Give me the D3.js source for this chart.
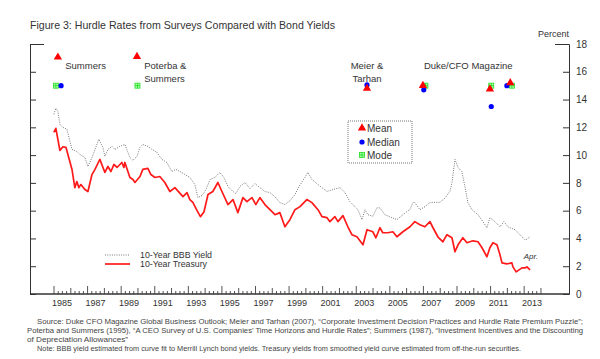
<!DOCTYPE html>
<html><head><meta charset="utf-8">
<script src="https://cdn.jsdelivr.net/npm/d3@7"></script>
<style>
html,body{margin:0;padding:0;background:#fff;}
svg{display:block;font-family:"Liberation Sans",Arial,Helvetica,sans-serif;}
</style></head>
<body><svg id="c" width="600" height="359"></svg>
<script>
// ---------- DATA ----------
const tsyDates = [1985.02,1985.14,1985.38,1985.56,1985.74,1986.10,1986.27,1986.39,1986.51,1986.63,1986.87,1987.05,1987.29,1987.47,1987.70,1987.76,1988.06,1988.24,1988.42,1988.60,1988.78,1989.07,1989.19,1989.25,1989.55,1989.73,1989.85,1990.15,1990.32,1990.62,1990.80,1991.04,1991.33,1991.63,1991.93,1992.23,1992.71,1992.95,1993.12,1993.30,1993.55,1993.75,1993.96,1994.20,1994.49,1994.79,1995.03,1995.39,1995.69,1995.98,1996.28,1996.52,1996.82,1997.05,1997.29,1997.59,1997.89,1998.19,1998.48,1998.78,1999.08,1999.38,1999.68,1999.97,2000.09,2000.39,2000.75,2000.99,2001.28,2001.46,2001.76,2001.94,2002.24,2002.53,2002.77,2003.07,2003.43,2003.67,2004.02,2004.20,2004.44,2004.61,2004.91,2005.21,2005.45,2005.81,2006.23,2006.52,2006.82,2007.12,2007.42,2007.60,2007.89,2008.19,2008.43,2008.73,2008.91,2009.09,2009.38,2009.62,2009.98,2010.28,2010.52,2010.81,2010.99,2011.17,2011.41,2011.59,2011.71,2012.00,2012.30,2012.36,2012.55,2012.90,2013.08,2013.20,2013.38];
const tsyValues = [11.64,11.93,10.34,10.60,10.56,8.97,7.66,8.10,7.66,7.88,7.52,7.38,8.60,8.97,9.54,9.69,8.75,9.18,8.82,9.33,9.11,9.47,9.11,9.47,8.39,8.24,8.03,8.46,8.97,9.04,8.60,8.39,8.46,8.03,7.38,7.66,7.01,7.30,6.80,6.60,6.00,5.57,5.90,7.16,7.38,8.03,7.38,6.44,6.80,5.86,6.94,6.65,6.94,6.44,6.94,6.44,6.07,5.71,5.86,4.84,5.35,6.07,6.29,6.65,6.80,6.58,6.07,5.57,5.50,5.21,5.57,5.21,5.64,4.84,4.27,4.12,3.54,4.63,4.48,4.05,4.77,4.41,4.41,4.48,4.12,4.48,4.84,5.21,4.99,4.84,5.21,4.77,4.12,3.76,4.27,4.05,3.04,3.54,4.05,3.69,3.83,3.76,3.33,2.68,3.33,3.69,3.54,2.82,2.24,2.17,2.24,1.95,1.59,1.88,1.88,1.95,1.74];

const bbbDates = [1985.02,1985.14,1985.26,1985.38,1985.56,1985.80,1986.10,1986.39,1986.57,1986.87,1987.05,1987.29,1987.47,1987.70,1987.94,1988.06,1988.24,1988.48,1988.66,1988.95,1989.25,1989.55,1989.73,1989.97,1990.15,1990.32,1990.62,1990.86,1991.16,1991.45,1991.75,1992.05,1992.29,1992.53,1992.83,1993.12,1993.42,1993.60,1993.84,1994.08,1994.32,1994.61,1994.91,1995.15,1995.39,1995.69,1995.86,1996.10,1996.40,1996.70,1996.99,1997.29,1997.59,1997.89,1998.19,1998.48,1998.78,1999.08,1999.38,1999.62,1999.97,2000.15,2000.39,2000.75,2000.99,2001.28,2001.64,2002.06,2002.36,2002.65,2002.95,2003.13,2003.37,2003.55,2003.72,2004.02,2004.26,2004.44,2004.73,2005.15,2005.45,2005.81,2006.23,2006.41,2006.52,2006.82,2007.12,2007.42,2007.72,2008.01,2008.31,2008.61,2008.73,2008.91,2009.09,2009.32,2009.50,2009.68,2009.92,2010.28,2010.58,2010.81,2010.99,2011.29,2011.59,2011.82,2012.06,2012.48,2012.78,2013.08,2013.20,2013.38];
const bbbValues = [12.94,13.38,13.16,12.22,12.00,11.86,10.41,10.27,10.05,9.83,9.18,9.83,10.41,11.14,10.56,9.91,10.41,10.63,10.41,10.63,10.77,9.83,9.62,9.91,10.56,10.77,10.63,10.41,10.20,9.69,9.47,8.82,8.97,8.82,8.60,8.39,7.88,6.94,7.09,7.52,8.24,8.39,8.75,8.39,7.74,7.38,7.23,7.74,8.03,7.59,7.95,7.66,7.38,7.30,7.01,6.58,6.44,6.72,7.16,7.74,8.39,8.75,8.24,7.88,7.66,7.38,7.52,7.66,7.30,6.65,6.29,6.07,5.35,6.07,5.71,5.60,6.20,6.20,5.71,5.50,5.35,5.71,6.10,6.58,6.58,6.07,6.29,6.58,6.60,6.60,6.90,7.40,8.00,9.69,9.11,8.82,7.74,6.58,6.07,5.71,5.21,4.77,5.50,5.21,4.84,5.21,4.84,4.63,4.27,3.90,3.95,4.12];

const meanDates  = [1985.26, 1989.97, 2003.67, 2007.00, 2010.99, 2012.20];
const meanValues = [17.05, 17.10, 14.80, 15.00, 14.75, 15.20];
const medianDates  = [1985.45, 2003.67, 2007.05, 2011.07, 2012.00];
const medianValues = [15.00, 15.05, 14.70, 13.50, 15.00];
const modeDates  = [1985.14, 1990.00, 2007.15, 2011.07, 2012.30];
const modeValues = [15.00, 15.00, 15.00, 15.00, 15.00];

const surveyLabels = [
  {lines:["Summers"], year:1985.7, anchor:"start"},
  {lines:["Poterba &","Summers"], year:1990.4, anchor:"start"},
  {lines:["Meier &","Tarhan"], year:2003.67, anchor:"middle"},
  {lines:["Duke/CFO Magazine"], year:2009.7, anchor:"middle"}
];
const yearLabels = [1985,1987,1989,1991,1993,1995,1997,1999,2001,2003,2005,2007,2009,2011,2013];
const yTicks = [0,2,4,6,8,10,12,14,16,18];
const seriesNames = ["10-Year BBB Yield","10-Year Treasury"];
const markerNames = ["Mean","Median","Mode"];
const footnotes = [
  "Source: Duke CFO Magazine Global Business Outlook; Meier and Tarhan (2007), \u201cCorporate Investment Decision Practices and Hurdle Rate Premium Puzzle\u201d;",
  "Poterba and Summers (1995), \u201cA CEO Survey of U.S. Companies\u2019 Time Horizons and Hurdle Rates\u201d; Summers (1987), \u201cInvestment Incentives and the Discounting",
  "of Depreciation Allowances\u201d",
  "Note: BBB yield estimated from curve fit to Merrill Lynch bond yields.  Treasury yields from smoothed yield curve estimated from off-the-run securities."
];

// ---------- SCALES ----------
const svg = d3.select("#c");
const L = 30, R = 569, T = 44, B = 294;
const x = d3.scaleLinear().domain([1983.6, 2015.7]).range([L, R]);
const y = d3.scaleLinear().domain([0, 18]).range([B, T]);
const txt = "#333";

// title
svg.append("text").attr("x", 30).attr("y", 29).attr("font-size", 11).attr("fill", txt)
  .attr("textLength", 305).attr("lengthAdjust","spacingAndGlyphs")
  .text("Figure 3: Hurdle Rates from Surveys Compared with Bond Yields");

// axes
const axR = svg.append("g").attr("transform", `translate(${R},0)`)
  .call(d3.axisRight(y).tickValues(yTicks).tickSize(-6).tickPadding(7).tickFormat(d3.format("d")));
axR.selectAll("text").attr("font-size", 10).attr("fill", txt).attr("font-family","Liberation Sans, Arial, sans-serif");
axR.selectAll("line").attr("stroke", "#333");
axR.select(".domain").attr("stroke", "#333");
axR.selectAll(".tick").filter(d => d === 18).select("line").attr("x2", -14);

const axL = svg.append("g").attr("transform", `translate(${L},0)`)
  .call(d3.axisLeft(y).tickValues(yTicks).tickSize(-6).tickFormat(""));
axL.selectAll("line").attr("stroke", "#333");
axL.select(".domain").attr("stroke", "#333");
axL.selectAll(".tick").filter(d => d === 18).select("line").attr("x2", 14);

svg.append("text").attr("x", 569).attr("y", 37).attr("text-anchor","end").attr("font-size", 9).attr("fill", txt).text("Percent");

// bottom axis
const qTicks = d3.range(1985, 2014.01, 0.25);
const axB = svg.append("g").attr("transform", `translate(0,${B})`)
  .call(d3.axisBottom(x).tickValues(qTicks).tickSize(-3).tickFormat(""));
axB.select(".domain").remove();
axB.selectAll(".tick line").attr("stroke", "#555")
  .attr("y2", d => (Math.abs(d - Math.round(d)) < 1e-6) ? ((Math.round(d) % 2 === 1) ? -8 : -6) : -3);
svg.append("line").attr("x1", L).attr("x2", R).attr("y1", B).attr("y2", B).attr("stroke", "#333").attr("stroke-width", 1.5);

svg.append("g").selectAll("text").data(yearLabels).join("text")
  .attr("x", d => x(d + 0.5)).attr("y", 306).attr("text-anchor","middle")
  .attr("font-size", 9).attr("fill", txt).text(d => d);

// lines
const bbb = bbbDates.map((d,i) => [d, bbbValues[i]]);
const tsy = tsyDates.map((d,i) => [d, tsyValues[i]]);
const line = d3.line().x(d => x(d[0])).y(d => y(d[1]));
svg.append("path").attr("d", line(bbb)).attr("fill","none").attr("stroke","#777")
  .attr("stroke-width", 1).attr("stroke-dasharray","1,1.3");
svg.append("path").attr("d", line(tsy)).attr("fill","none").attr("stroke","#ff1a1a")
  .attr("stroke-width", 1.7).attr("stroke-linejoin","round");

svg.append("text").attr("x", x(2013.0)).attr("y", 259).attr("font-size", 8).attr("font-style","italic")
  .attr("fill", txt).text("Apr.");

// line legend
const lg = svg.append("g");
lg.append("line").attr("x1",105).attr("x2",130).attr("y1",255).attr("y2",255).attr("stroke","#777").attr("stroke-dasharray","1,1.3");
lg.append("line").attr("x1",105).attr("x2",130).attr("y1",264).attr("y2",264).attr("stroke","#ff1a1a").attr("stroke-width",1.7);
lg.selectAll("text").data(seriesNames).join("text")
  .attr("x", 140).attr("y", (d,i) => 258 + i*9).attr("font-size", 8.2).attr("fill", txt)
  .attr("textLength", (d,i) => i ? 67 : 72).attr("lengthAdjust","spacingAndGlyphs").text(d => d);

// markers
const tri = d3.symbol().type(d3.symbolTriangle).size(30);
function drawMean(g, xs, ys) {
  g.append("path").attr("d", tri()).attr("transform", `translate(${xs},${ys})`).attr("fill", "#ff0000");
}
function drawMedian(g, xs, ys) {
  g.append("circle").attr("cx", xs).attr("cy", ys).attr("r", 2.6).attr("fill", "#0000ff");
}
function drawMode(g, xs, ys) {
  g.append("rect").attr("x", xs-2.5).attr("y", ys-2.5).attr("width",5).attr("height",5)
    .attr("fill","#aaffaa").attr("stroke","#22dd22").attr("stroke-width",0.8);
  g.append("path").attr("d", `M${xs-2.5},${ys}H${xs+2.5}M${xs},${ys-2.5}V${ys+2.5}`).attr("stroke","#22dd22").attr("stroke-width",0.8);
}
const mg = svg.append("g");
modeDates.forEach((d,i) => drawMode(mg, x(d), y(modeValues[i])));
medianDates.forEach((d,i) => drawMedian(mg, x(d), y(medianValues[i])));
meanDates.forEach((d,i) => drawMean(mg, x(d), y(meanValues[i])));

// survey labels
surveyLabels.forEach(s => {
  const t = svg.append("text").attr("x", x(s.year)).attr("y", 69).attr("text-anchor", s.anchor)
    .attr("font-size", 9.5).attr("fill", txt);
  s.lines.forEach((ln, i) => t.append("tspan").attr("x", x(s.year)).attr("dy", i ? 12.5 : 0).text(ln));
});

// marker legend
const bx = svg.append("g");
bx.append("rect").attr("x", 348).attr("y", 121).attr("width", 64).attr("height", 42)
  .attr("fill","#fff").attr("stroke","#777").attr("stroke-dasharray","1,1");
const legY = [128, 142, 155];
drawMean(bx, 362, legY[0]);
drawMedian(bx, 362, legY[1]);
drawMode(bx, 362, legY[2]);
bx.selectAll("text").data(markerNames).join("text")
  .attr("x", 367).attr("y", (d,i) => legY[i] + 3.5).attr("font-size", 10).attr("fill", txt).text(d => d);

// footnotes
const fn = [
  {x:37, y:324, w:546},
  {x:27, y:333, w:556},
  {x:27, y:342, w:101},
  {x:37, y:351, w:484}
];
svg.append("g").selectAll("text").data(footnotes).join("text")
  .attr("x", (d,i) => fn[i].x).attr("y", (d,i) => fn[i].y).attr("font-size", 6.8).attr("fill", "#444")
  .attr("textLength", (d,i) => fn[i].w).attr("lengthAdjust", "spacingAndGlyphs").text(d => d);
</script></body></html>
